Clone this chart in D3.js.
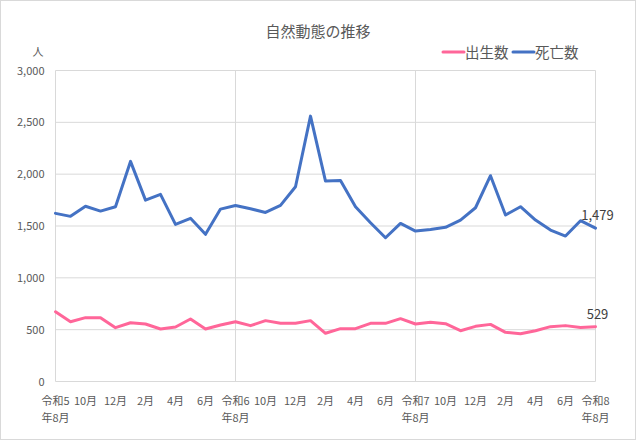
<!DOCTYPE html>
<html>
<head>
<meta charset="utf-8">
<script src="https://cdn.jsdelivr.net/npm/d3@7"></script>
<style>
  body { margin: 0; background: #fff; }
  svg text { font-family: "Noto Sans CJK JP", "Noto Sans", sans-serif; }
</style>
</head>
<body>
<div id="lineChart"></div>
<script>
/* months from 令和5年8月 to 令和8年8月 */
const months = [
  "令和5年8月","9月","10月","11月","12月","1月","2月","3月","4月","5月","6月","7月",
  "令和6年8月","9月","10月","11月","12月","1月","2月","3月","4月","5月","6月","7月",
  "令和7年8月","9月","10月","11月","12月","1月","2月","3月","4月","5月","6月","7月",
  "令和8年8月"
];
const births = [673,577,616,616,519,567,555,506,526,603,506,545,
  577,539,587,561,561,587,465,510,510,561,561,606,
  555,571,558,490,532,551,474,461,490,529,539,522,529];
const deaths = [1622,1593,1690,1644,1686,2123,1750,1805,1516,1574,1420,1663,
  1697,1666,1631,1699,1879,2560,1933,1940,1686,1531,1387,1525,
  1451,1467,1487,1557,1676,1985,1606,1686,1557,1461,1403,1551,1479];
const yTicks = [0,500,1000,1500,2000,2500,3000];
const seriesNames = ["出生数","死亡数"];
const seriesColors = ["#ff6699","#4472c4"];

const w = 636;
const h = 440;
const plotL = 55.5, plotR = 595.5, plotT = 70.5, plotB = 381.5;

const xScale = d3.scalePoint()
  .domain(d3.range(months.length))
  .range([plotL, plotR]);

const yScale = d3.scaleLinear()
  .domain([0, 3000])
  .range([plotB, plotT]);

const svg = d3.select("#lineChart")
  .append("svg")
  .attr("width", w)
  .attr("height", h);

svg.append("rect")
  .attr("x", 0.5).attr("y", 0.5)
  .attr("width", w - 1).attr("height", h - 1)
  .attr("fill", "#fff")
  .attr("stroke", "#d9d9d9");

/* horizontal grid */
svg.selectAll("line.hgrid")
  .data(yTicks)
  .enter()
  .append("line")
  .attr("class", "hgrid")
  .attr("x1", plotL).attr("x2", plotR)
  .attr("y1", d => yScale(d)).attr("y2", d => yScale(d))
  .attr("stroke", "#d9d9d9");

/* vertical grid every 12 months */
svg.selectAll("line.vgrid")
  .data(d3.range(0, months.length, 12))
  .enter()
  .append("line")
  .attr("class", "vgrid")
  .attr("x1", d => xScale(d)).attr("x2", d => xScale(d))
  .attr("y1", plotT).attr("y2", plotB)
  .attr("stroke", "#d9d9d9");

const yAxis = d3.axisLeft(yScale)
  .tickValues(yTicks)
  .tickFormat(d3.format(","))
  .tickSize(0)
  .tickPadding(11);

svg.append("g")
  .attr("transform", "translate(" + plotL + ",0)")
  .call(yAxis)
  .call(g => g.select(".domain").remove())
  .selectAll("text")
  .attr("fill", "#595959")
  .attr("font-size", "11px")
  .attr("font-family", "\"Noto Sans CJK JP\", sans-serif");

/* x labels, every second month */
const xLab = svg.append("g")
  .selectAll("text")
  .data(d3.range(0, months.length, 2))
  .enter()
  .append("text")
  .attr("text-anchor", "middle")
  .attr("fill", "#595959")
  .attr("font-size", "11px");

xLab.each(function(i){
  const t = d3.select(this);
  const x = xScale(i);
  const m = months[i];
  if (m.startsWith("令和")) {
    const k = m.indexOf("年");
    t.append("tspan").attr("x", x).attr("y", 405).text(m.slice(0, k));
    t.append("tspan").attr("x", x).attr("y", 422).text(m.slice(k));
  } else {
    t.append("tspan").attr("x", x).attr("y", 405).text(m);
  }
});

/* lines */
const line = d3.line()
  .x((d, i) => xScale(i))
  .y(d => yScale(d));

[births, deaths].forEach((s, k) => {
  svg.append("path")
    .datum(s)
    .attr("fill", "none")
    .attr("stroke", seriesColors[k])
    .attr("stroke-width", 3)
    .attr("stroke-linejoin", "round")
    .attr("stroke-linecap", "round")
    .attr("d", line);

  const last = s.length - 1;
  svg.append("text")
    .attr("x", xScale(last) + 2)
    .attr("y", yScale(s[last]) - 8)
    .attr("text-anchor", "middle")
    .attr("fill", "#404040")
    .attr("font-size", "13px")
    .text(d3.format(",")(s[last]));
});

/* title, unit, legend */
svg.append("text")
  .attr("x", 318).attr("y", 37)
  .attr("text-anchor", "middle")
  .attr("fill", "#595959")
  .attr("font-size", "15px")
  .text("自然動態の推移");

svg.append("text")
  .attr("x", 38).attr("y", 56)
  .attr("text-anchor", "middle")
  .attr("fill", "#595959")
  .attr("font-size", "11px")
  .text("人");

const legX = [443, 513];
seriesNames.forEach((n, k) => {
  svg.append("line")
    .attr("x1", legX[k]).attr("x2", legX[k] + 21)
    .attr("y1", 52).attr("y2", 52)
    .attr("stroke", seriesColors[k])
    .attr("stroke-width", 3)
    .attr("stroke-linecap", "round");
  svg.append("text")
    .attr("x", legX[k] + 22).attr("y", 57.5)
    .attr("fill", "#595959")
    .attr("font-size", "14.5px")
    .text(n);
});
</script>
</body>
</html>
